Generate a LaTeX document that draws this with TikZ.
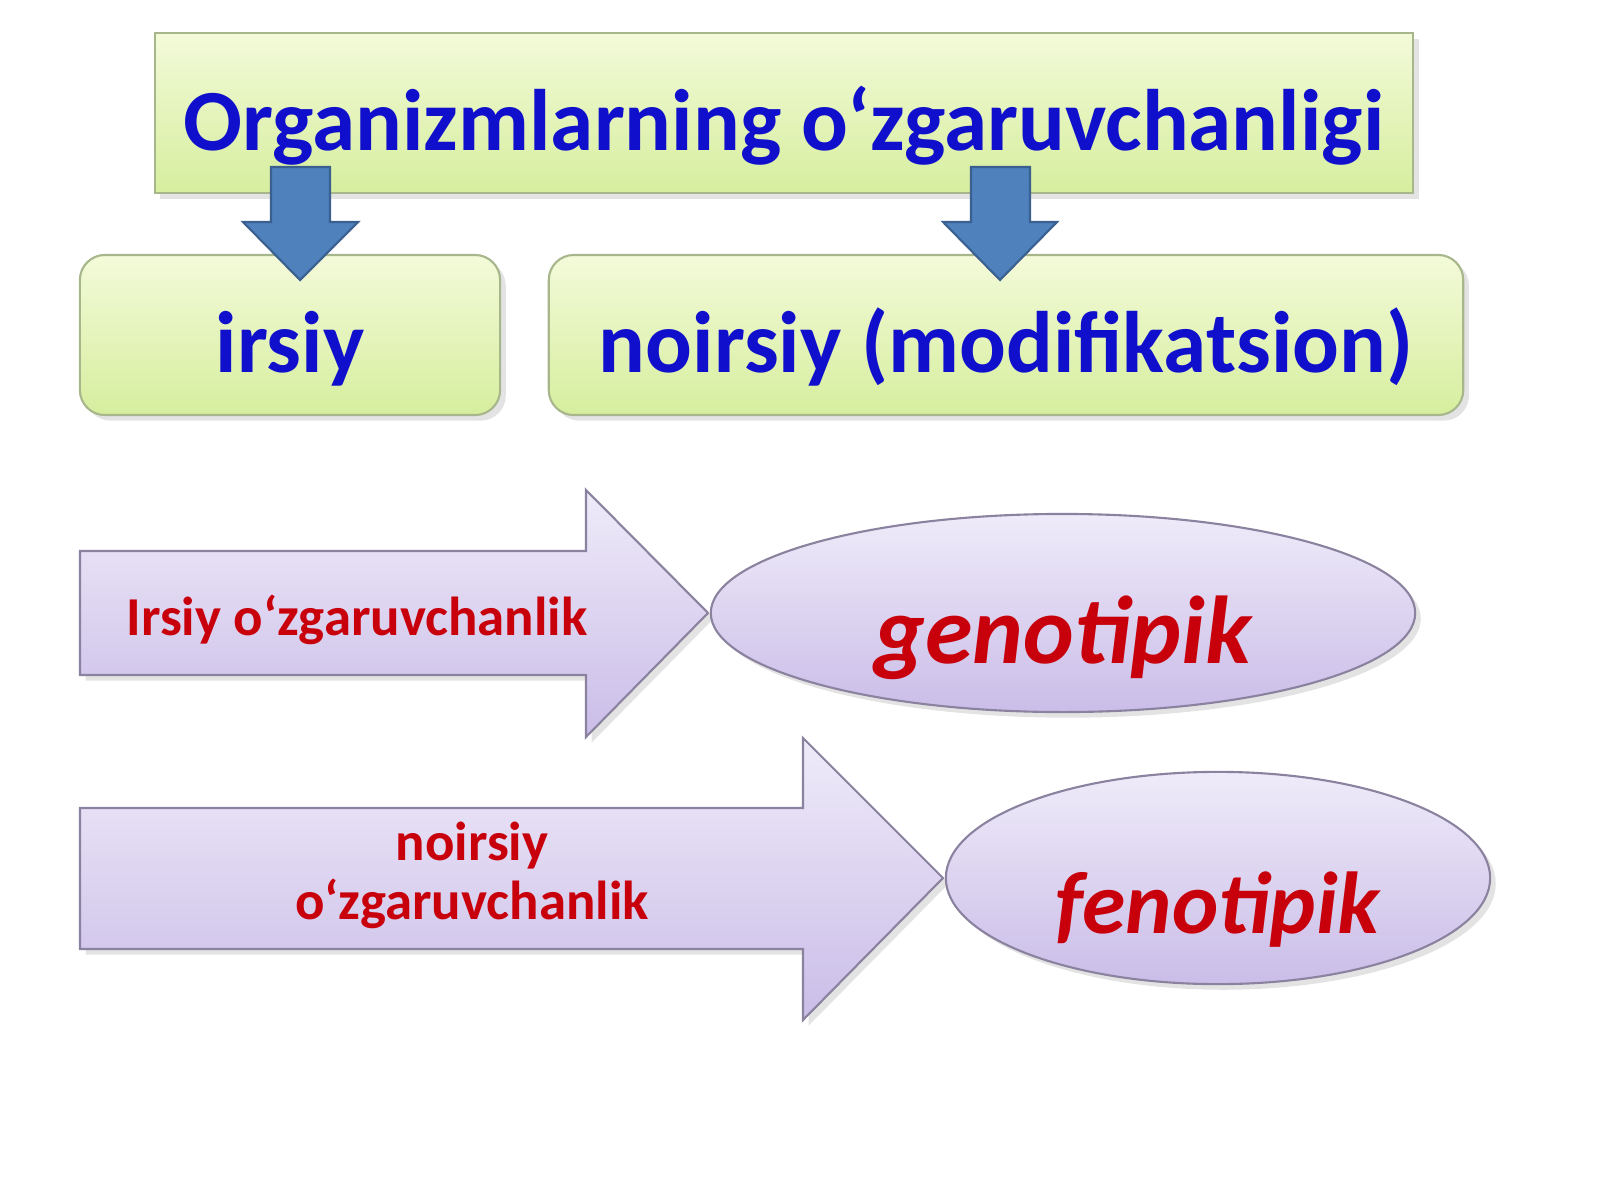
\documentclass[tikz,border=0pt]{standalone}
\usepackage{fontspec}
\setmainfont{Carlito}
\usetikzlibrary{shapes.geometric}
\usetikzlibrary{shadows}
\definecolor{TitleBlue}{RGB}{16,16,204}
\definecolor{DarkRed}{RGB}{200,0,12}
\definecolor{ArrowBlue}{HTML}{4F81BD}
\definecolor{ArrowEdge}{HTML}{3A6090}
\definecolor{PaleGreen}{HTML}{F3FAD9}
\definecolor{MidGreen}{HTML}{D6EE9E}
\definecolor{GreenEdge}{HTML}{A8B68C}
\definecolor{PaleLilac}{HTML}{EFEBF9}
\definecolor{MidLilac}{HTML}{CABDE8}
\definecolor{LilacEdge}{HTML}{8A829E}
\tikzset{
  softshadow/.style={drop shadow={opacity=0.22,shadow xshift=1.6pt,shadow yshift=-1.6pt}},
  greenbox/.style={draw=GreenEdge, line width=0.6pt, top color=PaleGreen,
    bottom color=MidGreen, softshadow, inner sep=0pt, text=TitleBlue,
    minimum height=1.6cm, text height=0.9cm, text depth=0.16cm,
    font=\fontsize{24.8}{28}\selectfont\bfseries},
  bluearrow/.style={fill=ArrowBlue, draw=ArrowEdge, line width=0.6pt},
  lilacshape/.style={draw=LilacEdge, line width=0.6pt, top color=PaleLilac,
    bottom color=MidLilac, softshadow},
  redlabel/.style={text=DarkRed, inner sep=0pt,
    font=\fontsize{15.6}{16.8}\selectfont\bfseries},
  bigred/.style={text=DarkRed, inner sep=0pt,
    font=\fontsize{#1}{30}\selectfont\bfseries\itshape}
}

\begin{document}
\begin{tikzpicture}[x=0.01cm,y=-0.01cm]
  \useasboundingbox (0,0) rectangle (1600,1200);

  % top box and the two kinds
  \node[greenbox, minimum width=12.58cm] (title) at (784,113)
    {Organizmlarning o‘zgaruvchanligi\hspace{0.2cm}};
  \node[greenbox, rounded corners=0.25cm, minimum width=4.2cm] (irsiy) at (290,335)
    {irsiy\hspace{0.2cm}};
  \node[greenbox, rounded corners=0.25cm, minimum width=9.14cm] (noirsiy) at (1006,335)
    {noirsiy (modifikatsion)\hspace{0.2cm}};

  % blue down arrows
  \draw[bluearrow] (271,167) -- (330,167) -- (330,222) -- (358,222) -- (300,280)
    -- (243,222) -- (271,222) -- cycle;
  \draw[bluearrow] (971,167) -- (1030,167) -- (1030,222) -- (1057,222) -- (1000,280)
    -- (943,222) -- (971,222) -- cycle;

  % block arrows
  \path[lilacshape] (80,551) -- (586,551) -- (586,490) -- (708,613) -- (586,737)
    -- (586,675) -- (80,675) -- cycle;
  \path[lilacshape] (80,808) -- (803,808) -- (803,738) -- (943,878) -- (803,1020)
    -- (803,949) -- (80,949) -- cycle;

  \node[redlabel, anchor=base] (irsiylab) at (357,635) {Irsiy o‘zgaruvchanlik};
  \node[redlabel, align=center] (noirsiylab) at (472,875) {noirsiy\\o‘zgaruvchanlik};

  % ellipses
  \node[lilacshape, ellipse, minimum width=7.04cm, minimum height=1.96cm,
    bigred=27.4, text height=1.2cm, text depth=0.2cm] (geno) at (1063,613) {genotipik};
  \node[lilacshape, ellipse, minimum width=5.44cm, minimum height=2.1cm,
    bigred=25, text height=1.3cm, text depth=0.2cm] (feno) at (1218,878) {fenotipik};

\end{tikzpicture}
\end{document}
